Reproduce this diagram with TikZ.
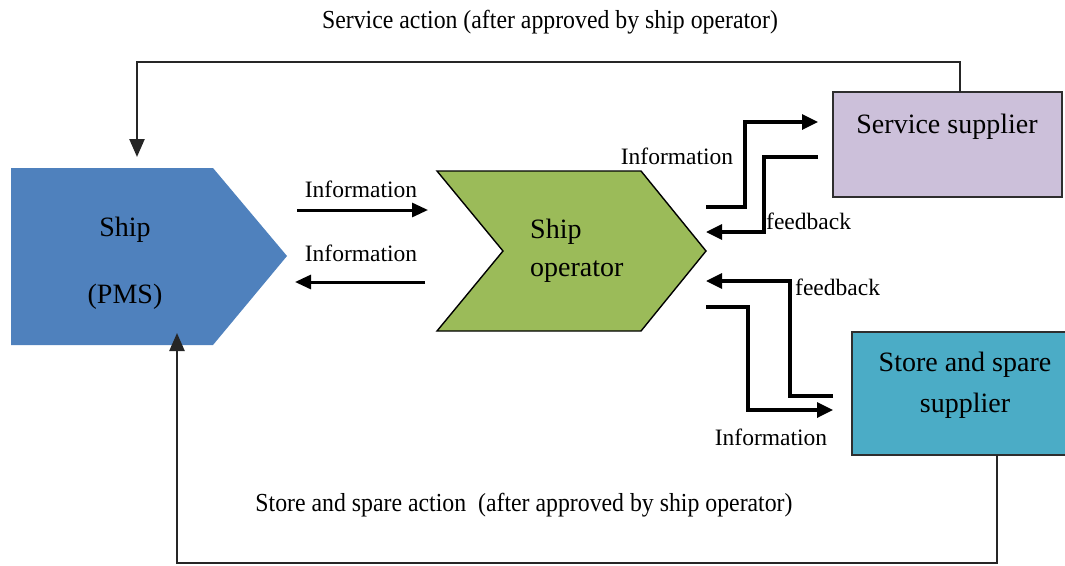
\documentclass[tikz,border=0pt]{standalone}
\usepackage{fontspec}
\setmainfont{Liberation Serif}
\usetikzlibrary{arrows.meta}
\definecolor{shipblue}{HTML}{4F81BD}
\definecolor{opgreen}{HTML}{9BBB59}
\definecolor{servlilac}{HTML}{CCC0DA}
\definecolor{storeteal}{HTML}{4BACC6}
\definecolor{edgegrey}{HTML}{2E2E2E}
\begin{document}
\begin{tikzpicture}[x=1pt,y=-1pt,
  bigtext/.style={inner sep=0pt, font=\fontsize{28}{32}\selectfont},
  smalltext/.style={inner sep=0pt, font=\fontsize{23.5}{27}\selectfont},
  actiontext/.style={inner sep=0pt, font=\fontsize{26}{30}\selectfont, xscale=0.915},
  supbox/.style={draw=edgegrey, line width=1.6pt, inner sep=0pt},
  frameline/.style={draw=black!85, line width=2.4pt, -{Triangle[length=18pt,width=15pt]}},
  flowline/.style={draw=black, line width=3.3pt, line join=miter, -{Triangle[length=16pt,width=15pt]}},
  infoline/.style={draw=black, line width=3pt, -{Triangle[length=16pt,width=14pt]}}
]
\useasboundingbox (0,0) rectangle (1065,565);
\clip (0,0) rectangle (1065,565);

% Ship (PMS): pentagon pointing right
\fill[shipblue] (11,168) -- (213,168) -- (287,256) -- (213,345) -- (11,345) -- cycle;
\node[bigtext] (shipname) at (125,230) {Ship};
\node[bigtext] (pms) at (125,297) {(PMS)};

% Ship operator: chevron
\draw[fill=opgreen, line width=1.4pt] (437,171) -- (641,171) -- (706,251) -- (641,331) -- (437,331) -- (503,251) -- cycle;
\node[bigtext, anchor=west] (opname) at (530,232) {Ship};
\node[bigtext, anchor=west] (opname2) at (530,272) {operator};

% Suppliers
\node[supbox, fill=servlilac, minimum width=229pt, minimum height=105pt] (serv) at (947.5,144.5) {};
\node[bigtext] (servname) at (947,127) {Service supplier};
\node[supbox, fill=storeteal, minimum width=230pt, minimum height=123pt] (store) at (967,393.5) {};
\node[bigtext] (storename1) at (965,365) {Store and spare};
\node[bigtext] (storename2) at (965,406) {supplier};

% End points of the connectors
\coordinate (servtop) at (960,92);
\coordinate (shiptop) at (137,157);
\coordinate (storebot) at (997,455);
\coordinate (shipbot) at (177,333);
\coordinate (shipout) at (297,210);
\coordinate (opin) at (428,210);
\coordinate (opout) at (425,282);
\coordinate (shipin) at (295,282);
\coordinate (oprA) at (706,207);
\coordinate (servin) at (818,122);
\coordinate (servout) at (818,157);
\coordinate (oprB) at (706,232);
\coordinate (storeout) at (833,396);
\coordinate (oprC) at (706,281);
\coordinate (oprD) at (706,307);
\coordinate (storein) at (833,410);

% Action loops
\draw[frameline] (servtop) -- (960,62) -| (shiptop);
\draw[frameline] (storebot) -- (997,563) -| (shipbot);
\node[actiontext] (servaction) at (550,22) {Service action (after approved by ship operator)};
\node[actiontext] (storeaction) at (524,505) {Store and spare action\ \ (after approved by ship operator)};

% Ship <-> operator information
\draw[infoline] (shipout) -- (opin);
\draw[infoline] (opout) -- (shipin);
\node[smalltext] (info1) at (361,189) {Information};
\node[smalltext] (info2) at (361,253) {Information};

% Operator <-> service supplier
\draw[flowline] (oprA) -- (745,207) -- (745,122) -- (servin);
\draw[flowline] (servout) -- (764,157) -- (764,232) -- (oprB);
\node[smalltext] (info3) at (677,156) {Information};
\node[smalltext, anchor=west] (fb1) at (766,221) {feedback};

% Operator <-> store and spare supplier
\draw[flowline] (storeout) -- (790,396) -- (790,281) -- (oprC);
\draw[flowline] (oprD) -- (748,307) -- (748,410) -- (storein);
\node[smalltext, anchor=west] (fb2) at (795,287) {feedback};
\node[smalltext] (info4) at (771,437) {Information};
\end{tikzpicture}
\end{document}
